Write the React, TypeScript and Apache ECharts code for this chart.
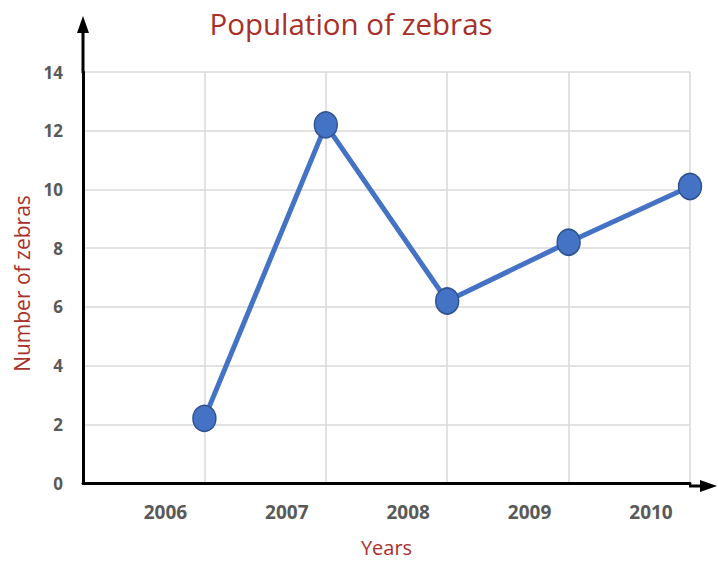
import React, { useEffect, useRef } from "react";
import * as echarts from "echarts";

const years: number[] = [2006, 2007, 2008, 2009, 2010];
const zebras: number[] = [2.2, 12.2, 6.2, 8.2, 10.1];
const yTicks = { min: 0, max: 14, interval: 2 };
const titleText = "Population of zebras";
const yName = "Number of zebras";
const xName = "Years";

const FONT = "'Open Sans', 'Noto Sans', sans-serif";
const RED = "#A7302A";
const GRAY = "#595959";

export default function App() {
  const ref = useRef<HTMLDivElement>(null);
  useEffect(() => {
    if (!ref.current) return;
    const chart = echarts.init(ref.current, null, { renderer: "svg" });
    const gl = 83, gt = 72, gw = 607, gh = 414;
    const option: any = {
      animation: false,
      backgroundColor: "#ffffff",
      title: {
        text: titleText,
        left: 346,
        top: 3,
        textAlign: "center",
        textStyle: { fontFamily: FONT, fontSize: 29.5, fontWeight: "normal", color: RED },
      },
      grid: { left: gl, top: gt, width: gw, height: gh, containLabel: false },
      xAxis: {
        type: "value",
        min: 2005,
        max: 2010,
        interval: 1,
        name: xName,
        nameLocation: "middle",
        nameGap: 54,
        nameTextStyle: { fontFamily: FONT, fontSize: 20, color: RED },
        axisLine: { show: true, lineStyle: { color: "#000", width: 3 } },
        axisTick: { show: false },
        axisLabel: {
          margin: 19,
          padding: [0, 78, 0, 0],
          fontFamily: FONT,
          fontSize: 19,
          fontWeight: "bold",
          color: GRAY,
          formatter: (v: number) => (v === 2005 ? "" : String(v)),
        },
        splitLine: { show: true, lineStyle: { color: "#D9D9D9", width: 1.5 } },
      },
      yAxis: {
        type: "value",
        min: yTicks.min,
        max: yTicks.max,
        interval: yTicks.interval,
        name: yName,
        nameLocation: "middle",
        nameRotate: 90,
        nameGap: 48,
        nameTextStyle: { fontFamily: FONT, fontSize: 21, color: RED, padding: [0, 12, 0, 0] },
        axisLine: { show: true, lineStyle: { color: "#000", width: 3 } },
        axisTick: { show: false },
        axisLabel: {
          margin: 20,
          fontFamily: FONT,
          fontSize: 17,
          fontWeight: "bold",
          color: GRAY,
        },
        splitLine: { show: true, lineStyle: { color: "#D9D9D9", width: 1.5 } },
      },
      graphic: [
        { type: "line", shape: { x1: gl, y1: gt + 1, x2: gl, y2: 30 }, style: { stroke: "#000", lineWidth: 3 }, z: 10 },
        { type: "polygon", shape: { points: [[gl, 16], [gl - 6, 33], [gl + 6, 33]] }, style: { fill: "#000" }, z: 10 },
        { type: "line", shape: { x1: gl + gw - 1, y1: gt + gh, x2: 702, y2: gt + gh }, style: { stroke: "#000", lineWidth: 3 }, z: 10 },
        { type: "polygon", shape: { points: [[717, gt + gh], [700, gt + gh - 6], [700, gt + gh + 6]] }, style: { fill: "#000" }, z: 10 },
      ],
      series: [
        {
          type: "line",
          data: years.map((y, i) => [y, zebras[i]]),
          symbol: "circle",
          symbolSize: [23, 26],
          lineStyle: { color: "#4472C4", width: 5 },
          itemStyle: { color: "#4472C4", borderColor: "#2F528F", borderWidth: 1.5 },
          z: 5,
        },
      ],
    };
    chart.setOption(option);
    return () => chart.dispose();
  }, []);
  return (
    <div
      ref={ref}
      style={{ position: "fixed", left: 0, top: 0, width: 718, height: 562 }}
    />
  );
}
